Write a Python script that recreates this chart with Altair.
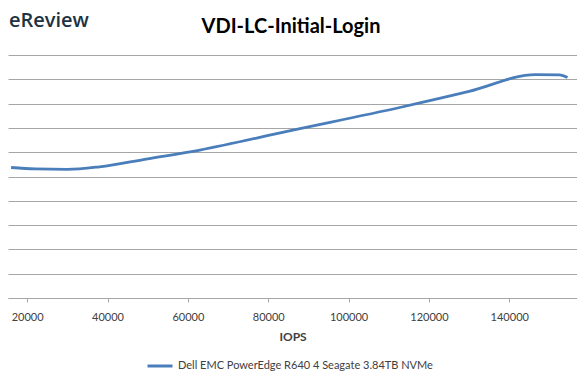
import altair as alt
import pandas as pd

series_name = "Dell EMC PowerEdge R640 4 Seagate 3.84TB NVMe"
iops = [16000, 22000, 30000, 38000, 50000, 63000, 85000, 113000, 130000, 146500, 152500, 154500]
latency = [5.37, 5.31, 5.29, 5.40, 5.73, 6.09, 6.87, 7.85, 8.50, 9.19, 9.18, 9.07]
x_ticks = [20000, 40000, 60000, 80000, 100000, 120000, 140000]
y_ticks = [0, 1, 2, 3, 4, 5, 6, 7, 8, 9, 10]
chart_title = "VDI-LC-Initial-Login"
logo_text = "eReview"

df = pd.DataFrame({"IOPS": iops, "Latency": latency, "Series": [series_name] * len(iops)})

FONT = "Lato"

line = alt.Chart(df).mark_line(strokeWidth=2.8, interpolate="monotone").encode(
    x=alt.X("IOPS:Q",
            scale=alt.Scale(domain=[15233, 156864], nice=False, zero=False),
            axis=alt.Axis(values=x_ticks, format="d", grid=False, title="IOPS",
                          titleFont=FONT, titleFontSize=12, titleFontWeight="bold",
                          titleColor="#404040", titlePadding=9,
                          labelFont=FONT, labelFontSize=11, labelColor="#404040",
                          labelPadding=9,
                          domainColor="#a6a6a6", tickColor="#a6a6a6", tickSize=4)),
    y=alt.Y("Latency:Q",
            scale=alt.Scale(domain=[0, 10], nice=False),
            axis=alt.Axis(values=y_ticks, labels=False, ticks=False, domain=False,
                          title=None, grid=True, gridColor="#a6a6a6", gridWidth=1)),
    color=alt.Color("Series:N",
                    scale=alt.Scale(range=["#4a7ebb"]),
                    legend=alt.Legend(title=None, orient="none", legendX=138, legendY=297,
                                      symbolType="stroke", symbolSize=625,
                                      symbolStrokeWidth=3, labelLimit=0,
                                      labelFont=FONT, labelFontSize=11,
                                      labelColor="#404040")),
)

logo = alt.Chart(pd.DataFrame({"t": [logo_text]})).mark_text(
    align="left", baseline="middle", font="Open Sans", fontSize=20, fontWeight=600,
    color="#1d3344"
).encode(x=alt.value(1), y=alt.value(-34), text="t:N")

title = alt.Chart(pd.DataFrame({"t": [chart_title]})).mark_text(
    align="center", baseline="middle", font=FONT, fontSize=20, fontWeight="bold",
    color="#000000"
).encode(x=alt.value(283), y=alt.value(-28), text="t:N")

chart = alt.layer(line, logo, title).properties(
    width=569, height=243,
    autosize=alt.AutoSizeParams(type="none"),
    padding={"left": 0, "top": 47, "right": 0, "bottom": 80},
).configure_view(stroke=None)

chart.save("out.html", embed_options={"renderer": "svg", "actions": False})
